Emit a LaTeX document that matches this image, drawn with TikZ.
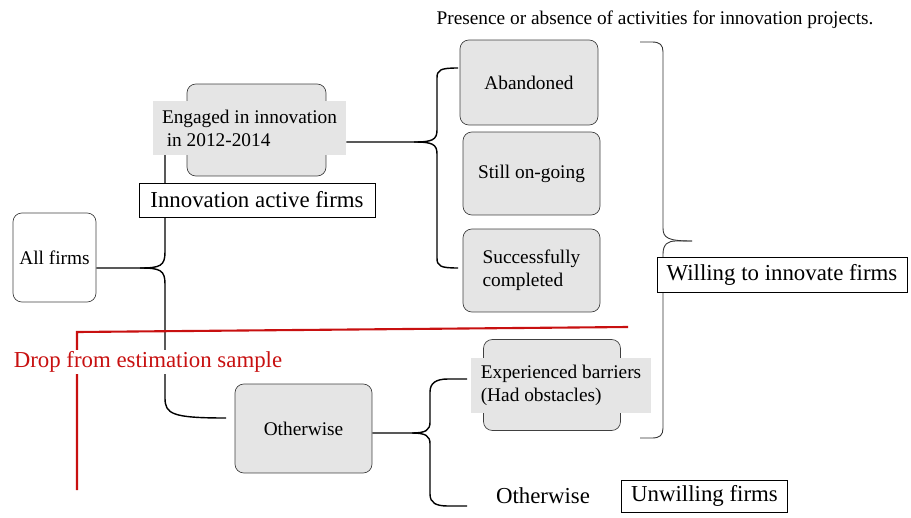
\documentclass[tikz,border=0pt]{standalone}
\usepackage{fontspec}
\setmainfont{Liberation Serif}
\usetikzlibrary{positioning, backgrounds}
\definecolor{dropred}{RGB}{200,16,16}

\begin{document}
\begin{tikzpicture}[x=0.02cm, y=-0.02cm,
  box/.style={draw=black!75, rounded corners=5pt, minimum width=2.74cm, minimum height=1.66cm, font=\fontsize{11}{13}\selectfont},
  graybox/.style={box, fill=black!10},
  lbl/.style={fill=black!10, align=left, inner xsep=0.18cm, inner ysep=0pt, font=\fontsize{11}{13}\selectfont},
  tag/.style={draw, fill=white, inner sep=2pt, font=\fontsize{13}{15}\selectfont},
  conn/.style={line width=0.8pt},
  thinconn/.style={line width=0.5pt, black!80}]
\useasboundingbox (0,0) rectangle (911,517);

% nodes
\node[box, minimum width=1.66cm, minimum height=1.78cm] (all) at (54.5,257.5) {All firms};
\node[graybox, minimum width=2.78cm, minimum height=1.84cm] (engbox) at (256.5,130) {};
\node[lbl, minimum width=3.86cm, minimum height=1.08cm] (eng) at (249.5,128) {Engaged in innovation\\\ in 2012-2014};
\node[tag, minimum width=4.72cm, minimum height=0.68cm] (act) at (257,200) {Innovation active firms};
\node[graybox, minimum width=2.76cm, minimum height=1.7cm] (ab) at (529,82.5) {Abandoned};
\node[graybox] (og) at (531.5,173.5) {Still on-going};
\node[graybox, align=left] (sc) at (531.5,270.5) {Successfully\\completed};
\node[tag, minimum width=5cm, minimum height=0.7cm] (will) at (782,274.5) {Willing to innovate firms};
\node[graybox, minimum height=1.78cm] (oth) at (303.5,428.5) {Otherwise};
\node[graybox, minimum height=1.82cm] (barbox) at (552,385) {};
\node[lbl, minimum width=3.6cm, minimum height=1.1cm] (bar) at (561,385.5) {Experienced barriers\\(Had obstacles)};
\node[font=\fontsize{13}{15}\selectfont] (oth2) at (543,496) {Otherwise};
\node[tag, minimum width=3.32cm, minimum height=0.64cm, right=0.5cm of oth2] (unw) {Unwilling firms};
\node[text=dropred, fill=white, inner sep=1pt, font=\fontsize{13}{15}\selectfont] (drop) at (148,362) {Drop from estimation sample};
\node[font=\fontsize{11}{13}\selectfont] (title) at (655,20) {Presence or absence of activities for innovation projects.};

% braces
\coordinate (m0) at (140,268);
\coordinate (u0) at (165,155);
\coordinate (d0) at (226,418);
\coordinate (m1) at (414,142);
\coordinate (t1) at (458,68);
\coordinate (b1) at (458,268);
\coordinate (t2) at (640,42);
\coordinate (b2) at (640,438);
\coordinate (m2) at (692,241);
\coordinate (m3) at (412,433);
\coordinate (t3) at (467,379);
\coordinate (b3) at (467,506);
\coordinate (r1) at (77,490);
\coordinate (r2) at (77,332);
\coordinate (r3) at (628,327);

\begin{scope}[on background layer]
\draw[conn] (all.east |- m0) -- (m0) .. controls (160,268) and (165,266) .. (165,252) -- (u0);
\draw[conn] (m0) .. controls (160,268) and (165,270) .. (165,284) -- (165,398) .. controls (165,414) and (172,418) .. (d0);
\draw[conn] (eng.east |- m1) -- (m1) .. controls (432,142) and (437,140) .. (437,130) -- (437,78) .. controls (437,70) and (440,68) .. (t1);
\draw[conn] (m1) .. controls (432,142) and (437,144) .. (437,154) -- (437,258) .. controls (437,266) and (440,268) .. (b1);
\draw[thinconn] (t2) -- (652,42) .. controls (660,42) and (663,45) .. (663,52) -- (663,228) .. controls (663,238) and (668,241) .. (m2);
\draw[thinconn] (m2) -- (676,241) .. controls (668,241) and (663,244) .. (663,254) -- (663,428) .. controls (663,435) and (660,438) .. (652,438) -- (b2);
\draw[conn] (oth.east |- m3) -- (m3) .. controls (426,433) and (430,430) .. (430,422) -- (430,392) .. controls (430,383) and (436,379) .. (448,379) -- (t3);
\draw[conn] (m3) .. controls (426,433) and (430,436) .. (430,444) -- (430,494) .. controls (430,503) and (436,506) .. (448,506) -- (b3);
\draw[dropred, line width=1.2pt] (r1) -- (r2) -- (r3);
\end{scope}
\end{tikzpicture}
\end{document}
